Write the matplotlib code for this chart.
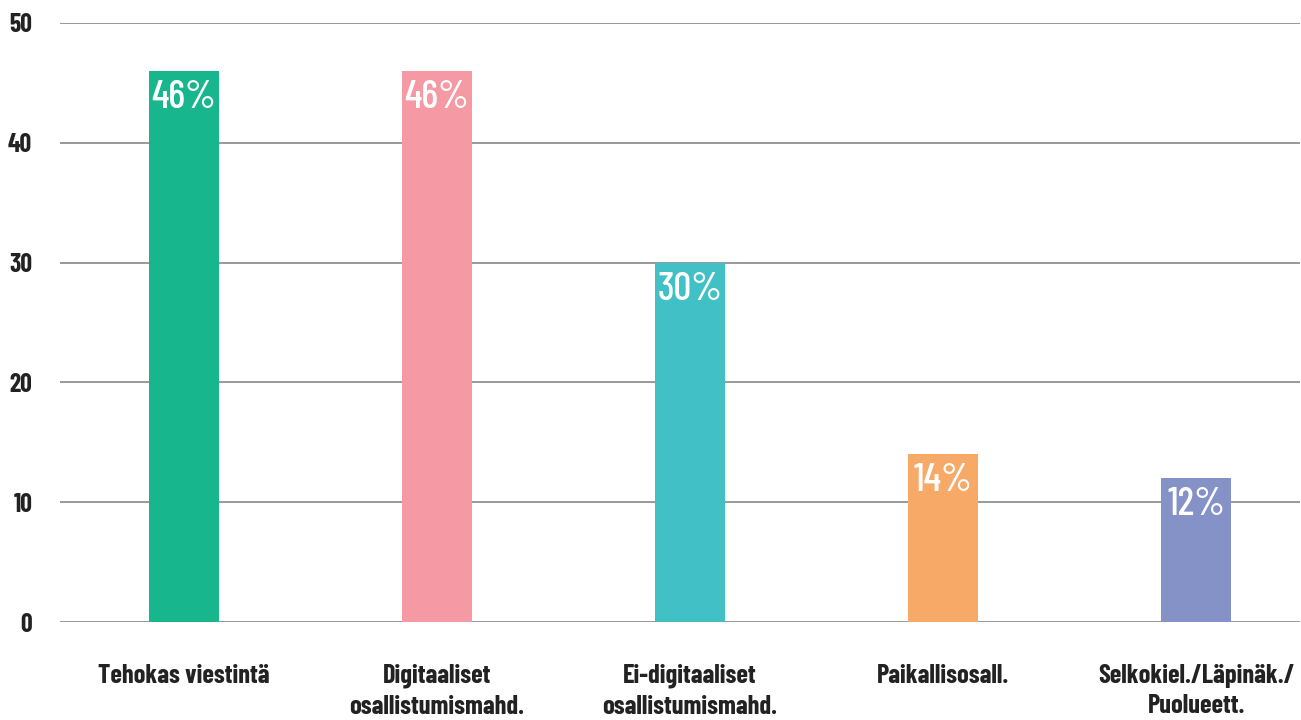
import matplotlib
matplotlib.use("Agg")
import matplotlib.pyplot as plt
from matplotlib import font_manager

categories = ["Tehokas viestintä", "Digitaaliset\nosallistumismahd.", "Ei-digitaaliset\nosallistumismahd.",
              "Paikallisosall.", "Selkokiel./Läpinäk./\nPuolueett."]
values = [46, 46, 30, 14, 12]
colors = ["#17b68c", "#f599a4", "#41c1c5", "#f7a968", "#8592c8"]
yticks = [0, 10, 20, 30, 40, 50]

names = {f.name for f in font_manager.fontManager.ttflist}
fam = "DejaVu Sans"
for cand in ["Barlow Condensed", "Roboto Condensed", "Liberation Sans Narrow", "Open Sans Condensed"]:
    if cand in names:
        fam = cand
        break
plt.rcParams['font.family'] = [fam, 'DejaVu Sans']
plt.rcParams['font.stretch'] = 'condensed'

fig = plt.figure(figsize=(13.01, 7.2), dpi=100)
ax = fig.add_axes([60/1301, 98/720, 1240/1301, 599/720])

x = list(range(len(values)))
ax.bar(x, values, width=0.277, color=colors, zorder=3)
for xi, v in zip(x, values):
    ax.text(xi, v - 0.75, f"{v}%", ha='center', va='top', color='white',
            fontsize=28.5, fontweight='medium', zorder=4)

ax.set_ylim(0, 50)
ax.set_xlim(-0.49, 4.41)
ax.set_yticks(yticks)
ax.set_yticklabels([str(t) for t in yticks], fontsize=18.5, fontweight='bold', color='#222222')
ax.set_xticks(x)
ax.set_xticklabels(categories, fontsize=19, fontweight='bold', color='#222222', linespacing=1.35)
ax.tick_params(axis='y', length=0, pad=20)
ax.tick_params(axis='x', length=0, pad=30)
ax.grid(axis='y', color='#888888', linewidth=1.2, zorder=0)
for s in ax.spines.values():
    s.set_visible(False)

fig.savefig("out.png", dpi=100)
